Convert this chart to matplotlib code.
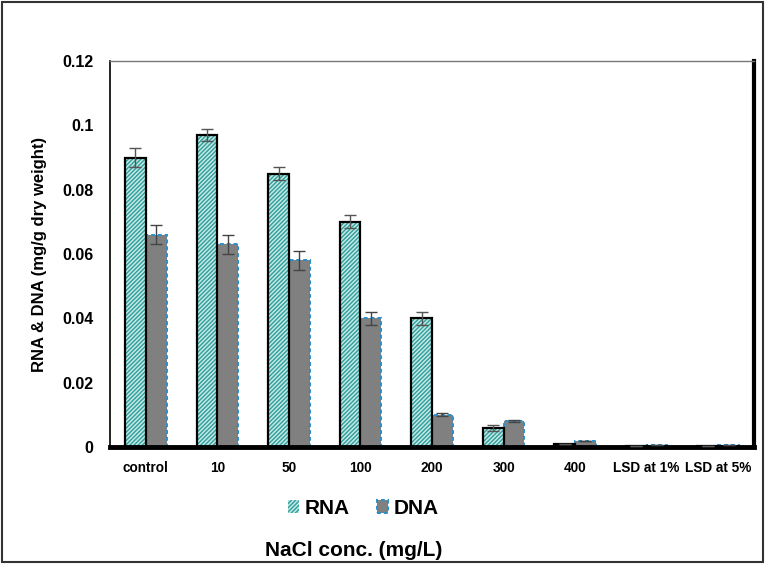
import numpy as np
import matplotlib.pyplot as plt
from matplotlib.patches import Rectangle, Patch

# data
categories = ["control", "10", "50", "100", "200", "300", "400", "LSD at 1%", "LSD at 5%"]
rna = [0.090, 0.097, 0.085, 0.070, 0.040, 0.006, 0.001, 0.0003, 0.0002]
dna = [0.066, 0.063, 0.058, 0.040, 0.010, 0.008, 0.002, 0.0005, 0.0005]
rna_err = [0.003, 0.002, 0.002, 0.002, 0.002, 0.001, 0, 0, 0]
dna_err = [0.003, 0.003, 0.003, 0.002, 0.0005, 0.0003, 0, 0, 0]
yticks = [0, 0.02, 0.04, 0.06, 0.08, 0.1, 0.12]
ytick_labels = ["0", "0.02", "0.04", "0.06", "0.08", "0.1", "0.12"]

plt.rcParams['font.family'] = ['Liberation Sans', 'DejaVu Sans']
plt.rcParams['hatch.linewidth'] = 1.0

fig = plt.figure(figsize=(7.66, 5.64), dpi=100)
ax = fig.add_axes([0.1436, 0.2074, 0.8407, 0.6844])

x = np.arange(len(categories))
w = 0.29
rna_face = "#c4e8e6"
rna_hatch = "#2f9e9a"

# RNA: hatched teal with black outline
ax.bar(x - w / 2, rna, w, color=rna_face, edgecolor=rna_hatch, hatch="////////", linewidth=0, zorder=2)
ax.bar(x - w / 2, rna, w, fill=False, edgecolor="black", linewidth=1.6, zorder=3)
ax.errorbar(x - w / 2, rna, yerr=rna_err, fmt="none", ecolor="#555555", elinewidth=1, capsize=4, zorder=4)

# DNA: grey with dashed blue outline
ax.bar(x + w / 2, dna, w, color="#808080", edgecolor="#2a8fc7", linewidth=1.4, linestyle=(0, (2, 1.5)), zorder=2)
ax.errorbar(x + w / 2, dna, yerr=dna_err, fmt="none", ecolor="#444444", elinewidth=1, capsize=4, zorder=4)

ax.set_xlim(-0.5, len(categories) - 0.5)
ax.set_ylim(0, 0.12)
ax.set_yticks(yticks)
ax.set_yticklabels(ytick_labels, fontsize=11.5, fontweight="bold")
ax.set_xticks(x)
ax.set_xticklabels(categories, fontsize=9.8, fontweight="bold")
ax.tick_params(axis="x", length=0, pad=10)
ax.tick_params(axis="y", length=0, pad=12)
ax.set_ylabel("RNA & DNA (mg/g dry weight)", fontsize=12, fontweight="bold", labelpad=11)

ax.spines["top"].set_color("#777777")
ax.spines["top"].set_linewidth(1)
ax.spines["left"].set_linewidth(1.2)
ax.spines["right"].set_linewidth(3)
ax.spines["bottom"].set_linewidth(3.5)

handles = [
    Patch(facecolor=rna_face, edgecolor=rna_hatch, hatch="////////", linewidth=0),
    Patch(facecolor="#808080", edgecolor="#2a8fc7", linewidth=1.4, linestyle=(0, (2, 1.5))),
]
fig.legend(handles, ["RNA", "DNA"], loc="center", bbox_to_anchor=(0.474, 0.099), ncol=2,
           frameon=False, prop={"weight": "bold", "size": 15}, handlelength=0.55, handleheight=0.55,
           handletextpad=0.25, columnspacing=1.3)

fig.text(0.462, 0.024, "NaCl conc. (mg/L)", ha="center", va="center", fontsize=15, fontweight="bold")

# outer frame
fig.patches.append(Rectangle((0.003, 0.003), 0.993, 0.993, transform=fig.transFigure,
                             fill=False, edgecolor="#333333", linewidth=1.5))

fig.savefig("out.png", dpi=100)
